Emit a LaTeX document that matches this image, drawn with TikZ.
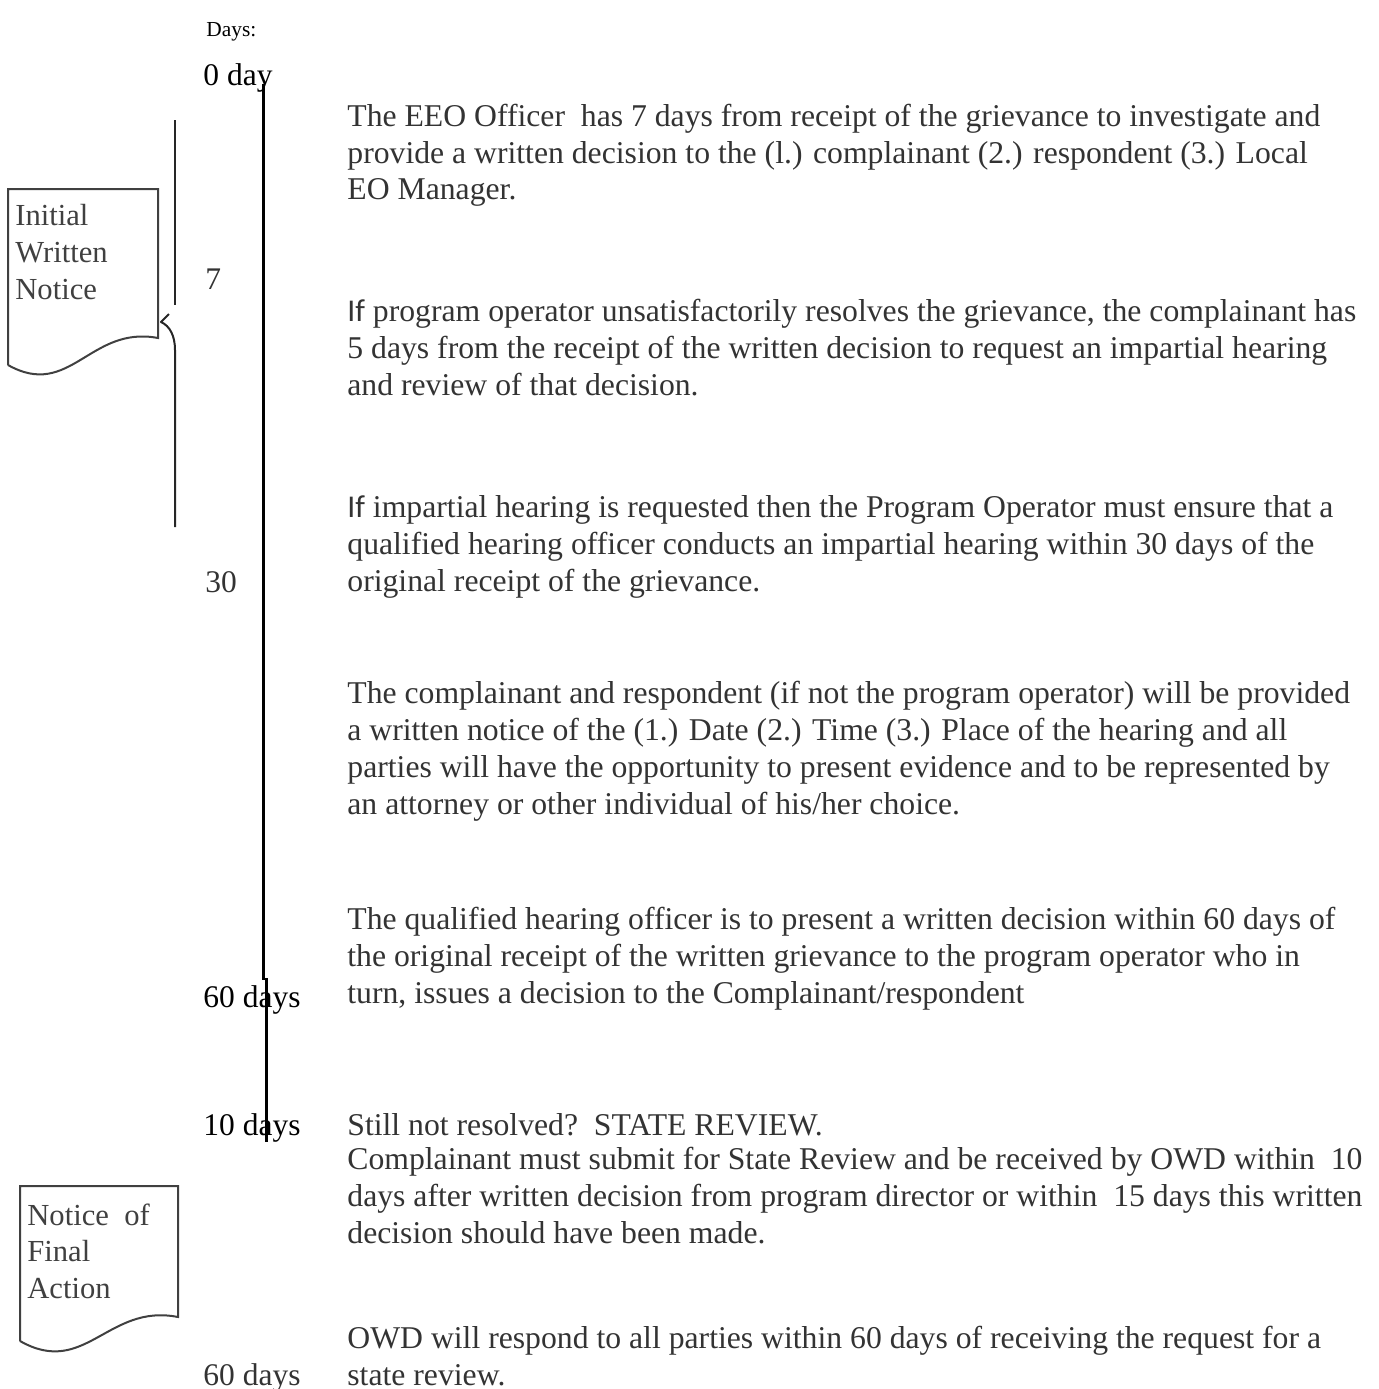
\documentclass[tikz,border=0pt]{standalone}
\usepackage{fontspec}
\setmainfont{Liberation Serif}
\newfontfamily\ifsans{Carlito}
\definecolor{txt}{gray}{0.2}
\definecolor{boxc}{gray}{0.25}
\begin{document}
\begin{tikzpicture}[x=0.5pt,y=-0.5pt,
  ln/.style={anchor=base west,inner sep=0pt,font=\fontsize{15.85}{18.5}\selectfont,text=txt},
  lab/.style={anchor=base west,inner sep=0pt,font=\fontsize{15.75}{18.5}\selectfont,text=black},
  small/.style={anchor=base west,inner sep=0pt,font=\fontsize{10.7}{13}\selectfont,text=black},
  boxtxt/.style={anchor=base west,inner sep=0pt,font=\fontsize{15.3}{18.5}\selectfont,text=boxc},
  doc/.style={draw=boxc,line width=1pt},
  tline/.style={line width=1.5pt,draw=black},
  brline/.style={line width=1pt,draw=black!85,line cap=butt}]
\useasboundingbox (0,0) rectangle (1379,1389);

% left day labels
\node[small] (days) at (206,36) {Days:};
\node[lab] (d0) at (203,85) {0 day};
\node[lab,text=txt] (d7) at (205,289) {7};
\node[lab,text=txt] (d30) at (205,592) {30};
\node[lab] (d60) at (203,1007) {60 days};
\node[lab] (d10) at (203,1135) {10 days};
\node[lab,text=txt] (d60b) at (203,1385) {60 days};

% main time line
\coordinate (t0) at (263,84);
\coordinate (t1) at (263,980);
\coordinate (t2) at (266,978);
\coordinate (t3) at (266,1142);
\draw[tline] (t0) -- (t1);
\draw[tline] (t2) -- (t3);

% bracket with arrow at the first document
\coordinate (b0) at (175,120);
\coordinate (b1) at (175,305);
\coordinate (tipup) at (169,314);
\coordinate (tip) at (161,322);
\coordinate (b2) at (175,350);
\coordinate (b3) at (175,527);
\draw[brline] (b0) -- (b1);
\draw[brline,line join=round] (tipup) -- (tip) .. controls (170,326) and (175,336) .. (b2) -- (b3);

% document 1
\coordinate (a1) at (8,365);
\coordinate (a2) at (8,189);
\coordinate (a3) at (158,189);
\coordinate (a4) at (158,338);
\draw[doc] (a1) -- (a2) -- (a3) -- (a4) .. controls (90,325) and (70,400) .. (a1);
\node[boxtxt] (n1a) at (15,225) {Initial};
\node[boxtxt] (n1b) at (15,262) {Written};
\node[boxtxt] (n1c) at (15,299) {Notice};

% document 2
\coordinate (c1) at (20,1341);
\coordinate (c2) at (20,1186);
\coordinate (c3) at (178,1186);
\coordinate (c4) at (178,1317);
\draw[doc] (c1) -- (c2) -- (c3) -- (c4) .. controls (108,1303) and (85,1378) .. (c1);
\node[boxtxt] (n2a) at (27,1225) {Notice\ \ of};
\node[boxtxt] (n2b) at (27,1261) {Final};
\node[boxtxt] (n2c) at (27,1298) {Action};

% paragraphs
\node[ln] (l11) at (347,126) {The EEO Officer\ \ has 7 days from receipt of the grievance to investigate and};
\node[ln] (l12) at (347,163) {provide a written decision to the (l.) complainant (2.) respondent (3.) Local};
\node[ln] (l13) at (347,199) {EO Manager.};

\node[ln] (l21) at (347,321) {{\ifsans If} program operator unsatisfactorily resolves the grievance, the complainant has};
\node[ln] (l22) at (347,358) {5 days from the receipt of the written decision to request an impartial hearing};
\node[ln] (l23) at (347,395) {and review of that decision.};

\node[ln] (l31) at (347,517) {{\ifsans If} impartial hearing is requested then the Program Operator must ensure that a};
\node[ln] (l32) at (347,554) {qualified hearing officer conducts an impartial hearing within 30 days of the};
\node[ln] (l33) at (347,591) {original receipt of the grievance.};

\node[ln] (l41) at (347,703) {The complainant and respondent (if not the program operator) will be provided};
\node[ln] (l42) at (347,740) {a written notice of the (1.) Date (2.) Time (3.) Place of the hearing and all};
\node[ln] (l43) at (347,777) {parties will have the opportunity to present evidence and to be represented by};
\node[ln] (l44) at (347,814) {an attorney or other individual of his/her choice.};

\node[ln] (l51) at (347,929) {The qualified hearing officer is to present a written decision within 60 days of};
\node[ln] (l52) at (347,966) {the original receipt of the written grievance to the program operator who in};
\node[ln] (l53) at (347,1003) {turn, issues a decision to the Complainant/respondent};

\node[ln] (l61) at (347,1135) {Still not resolved?\ \ STATE REVIEW.};
\node[ln] (l62) at (347,1169) {Complainant must submit for State Review and be received by OWD within\ \ 10};
\node[ln] (l63) at (347,1206) {days after written decision from program director or within\ \ 15 days this written};
\node[ln] (l64) at (347,1243) {decision should have been made.};

\node[ln] (l71) at (347,1348) {OWD will respond to all parties within 60 days of receiving the request for a};
\node[ln] (l72) at (347,1385) {state review.};
\end{tikzpicture}
\end{document}
